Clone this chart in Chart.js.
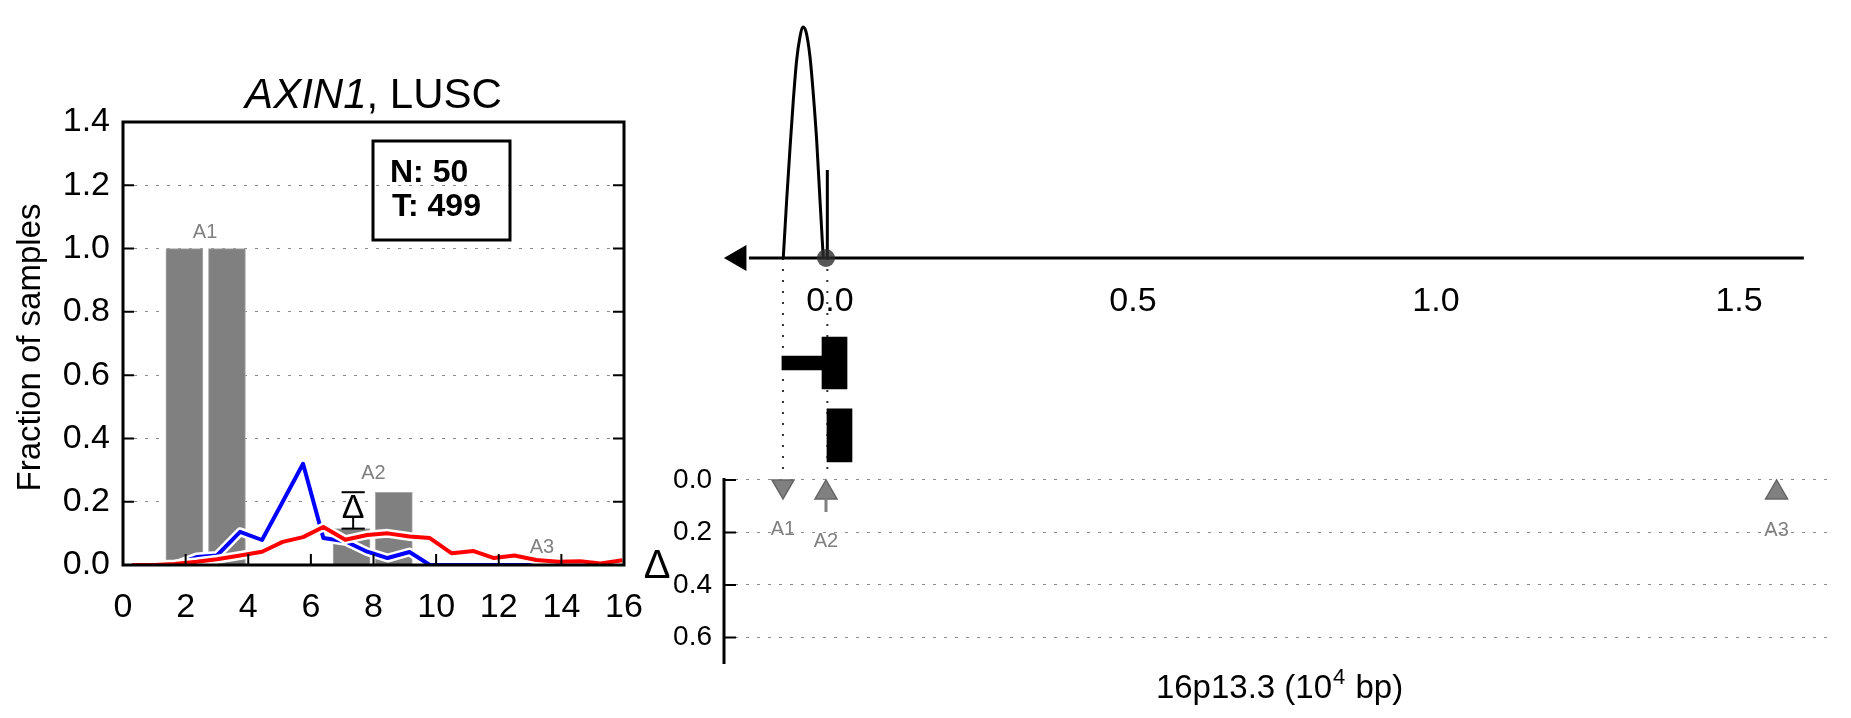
<!DOCTYPE html>
<html>
<head>
<meta charset="utf-8">
<title>AXIN1, LUSC</title>
<script src="https://cdn.jsdelivr.net/npm/chart.js@4.4.1/dist/chart.umd.min.js"></script>
<style>
  body { margin: 0; background: #fff; }
  #wrap { position: relative; width: 1851px; height: 718px; overflow: hidden; }
  canvas { position: absolute; top: 0; }
  #histChart { left: 0; }
  #locusChart { left: 640px; }
</style>
</head>
<body>
<div id="wrap">
  <canvas id="histChart" width="720" height="640"></canvas>
  <canvas id="locusChart" width="1211" height="718"></canvas>
</div>
<script>
// --- left panel: fraction of samples ---
var histXTicks = [0, 2, 4, 6, 8, 10, 12, 14, 16];
var histYTicks = [0, 0.2, 0.4, 0.6, 0.8, 1.0, 1.2, 1.4];

var barX = [1.96, 3.32, 7.30, 8.65];
var barY = [1.0, 1.0, 0.115, 0.23];

var lineX = [0.3, 1.0, 1.65, 2.35, 3.0, 3.74, 4.44, 5.1, 5.75, 6.4, 7.1, 7.8,
             8.45, 9.15, 9.8, 10.5, 11.2, 11.85, 12.5, 13.2, 13.9, 14.6, 15.25, 15.95];
var blueY = [0, 0, 0, 0.025, 0.03, 0.105, 0.079, 0.2, 0.32, 0.085, 0.075, 0.042,
             0.022, 0.041, 0, 0, 0, 0, 0, 0, 0, 0, 0, 0];
var redY  = [0, 0, 0.003, 0.01, 0.018, 0.03, 0.042, 0.073, 0.088, 0.12, 0.08, 0.095,
             0.1, 0.09, 0.085, 0.037, 0.044, 0.022, 0.03, 0.016, 0.01, 0.012, 0.005, 0.015];

// delta marker between the two bars
var deltaX = 7.35;
var deltaLow = 0.115;
var deltaHigh = 0.23;

var histLabels = ['A1', 'A2', 'A3'];
var histLabelX = [2.62, 8.0, 13.38];
var histLabelY = [1.05, 0.29, 0.054];

// --- right panel: locus 16p13.3 ---
var locusXTicks = [0, 0.5, 1.0, 1.5];
var deltaTicks = [0, 0.2, 0.4, 0.6];

var curveX = [-0.0771, -0.0715, -0.0661, -0.0606, -0.0550, -0.0495, -0.0451,
              -0.0396, -0.0330, -0.0276, -0.0220, -0.0165, -0.0111];
var curveY = [0, 0.25, 0.47, 0.68, 0.857, 0.958, 1.0, 0.98, 0.871, 0.712, 0.51, 0.25, 0];

var axisFrom = -0.1338;
var axisTo = 1.607;
var arrowX = -0.1503;

var stickX = -0.0044;
var stickTop = 0.381;

var geneStart = [-0.0793, -0.0132, -0.005];
var geneEnd   = [-0.0132, 0.0281, 0.0363];
var geneRow   = [-0.4545, -0.4545, -0.768];

var sites = ['A1', 'A2', 'A3'];
var siteX = [-0.0776, -0.0066, 1.562];
var siteDelta = [0.024, 0.048, 0.048];
var siteLabelDelta = [0.187, 0.236, 0.194];
var a2Stem = [0.07, 0.122];

var FONT = "'Liberation Sans', Arial, Helvetica, sans-serif";
Chart.defaults.font.family = FONT;
Chart.defaults.color = '#000';

function pts(xs, ys) {
    return xs.map(function(x, i) { return { x: x, y: ys[i] }; });
}
function setTicks(list) {
    return function(scale) { scale.ticks = list.map(function(v) { return { value: v }; }); };
}

// frame, inward ticks and texts of the left panel
var histDecor = {
    id: 'histDecor',
    afterDraw: function(chart) {
        var ctx = chart.ctx;
        var a = chart.chartArea;
        var xs = chart.scales.x, ys = chart.scales.y;
        ctx.save();
        ctx.strokeStyle = '#000';
        ctx.lineWidth = 2;
        ctx.beginPath();
        histYTicks.forEach(function(v) {
            if (v <= 0 || v >= 1.4) return;
            var py = ys.getPixelForValue(v);
            ctx.moveTo(a.left, py); ctx.lineTo(a.left + 11, py);
            ctx.moveTo(a.right - 11, py); ctx.lineTo(a.right, py);
        });
        histXTicks.forEach(function(v) {
            if (v <= 0 || v >= 16) return;
            var px = xs.getPixelForValue(v);
            ctx.moveTo(px, a.bottom); ctx.lineTo(px, a.bottom - 11);
        });
        ctx.stroke();
        ctx.lineWidth = 3;
        ctx.strokeRect(a.left, a.top, a.right - a.left, a.bottom - a.top);

        // title: italic gene name + plain cohort
        var part1 = 'AXIN1', part2 = ', LUSC';
        ctx.font = 'italic 42px ' + FONT;
        var w1 = ctx.measureText(part1).width;
        ctx.font = '42px ' + FONT;
        var w2 = ctx.measureText(part2).width;
        var tx = (a.left + a.right) / 2 - (w1 + w2) / 2;
        ctx.fillStyle = '#000';
        ctx.textBaseline = 'alphabetic';
        ctx.textAlign = 'left';
        ctx.font = 'italic 42px ' + FONT;
        ctx.fillText(part1, tx, a.top - 14);
        ctx.font = '42px ' + FONT;
        ctx.fillText(part2, tx + w1, a.top - 14);

        // y axis title
        ctx.save();
        ctx.translate(31, (a.top + a.bottom) / 2 + 4);
        ctx.rotate(-Math.PI / 2);
        ctx.textAlign = 'center';
        ctx.textBaseline = 'middle';
        ctx.font = '33px ' + FONT;
        ctx.fillText('Fraction of samples', 0, 0);
        ctx.restore();

        // N / T box
        var bx = a.left + 250, by = a.top + 19;
        ctx.lineWidth = 3;
        ctx.strokeRect(bx, by, 137, 99);
        ctx.font = 'bold 32px ' + FONT;
        ctx.textAlign = 'left';
        ctx.fillText('N: 50', bx + 17, by + 41);
        ctx.fillText('T: 499', bx + 19, by + 75);

        // bar labels
        ctx.fillStyle = '#808080';
        ctx.font = '20px ' + FONT;
        ctx.textAlign = 'center';
        ctx.textBaseline = 'middle';
        histLabels.forEach(function(t, i) {
            ctx.fillText(t, xs.getPixelForValue(histLabelX[i]), ys.getPixelForValue(histLabelY[i]));
        });

        // delta symbol
        ctx.fillStyle = '#000';
        ctx.font = '34px ' + FONT;
        ctx.textBaseline = 'alphabetic';
        ctx.fillText('\u0394', xs.getPixelForValue(deltaX), ys.getPixelForValue(0.15));
        ctx.restore();
    }
};

new Chart(document.getElementById('histChart'), {
    type: 'line',
    data: {
        datasets: [
            { type: 'bar', data: pts(barX, barY), backgroundColor: '#808080', borderColor: '#a8a8a8',
              borderWidth: 1, barThickness: 37, maxBarThickness: 37, grouped: false, order: 6 },
            { data: pts(lineX, blueY), borderColor: '#ffffff', borderWidth: 9, order: 5 },
            { data: pts(lineX, blueY), borderColor: '#0000ff', borderWidth: 4, order: 4 },
            { data: pts(lineX, redY), borderColor: '#ffffff', borderWidth: 9, order: 3 },
            { data: pts(lineX, redY), borderColor: '#ff0000', borderWidth: 4, order: 2 },
            { data: [{ x: deltaX, y: deltaLow }, { x: deltaX, y: 0.15 }], borderColor: '#000', borderWidth: 2, order: 1 },
            { data: [{ x: deltaX - 0.37, y: deltaLow }, { x: deltaX + 0.37, y: deltaLow }], borderColor: '#000', borderWidth: 2, order: 1 },
            { data: [{ x: deltaX - 0.37, y: deltaHigh }, { x: deltaX + 0.37, y: deltaHigh }], borderColor: '#000', borderWidth: 2, order: 1 }
        ]
    },
    options: {
        responsive: false,
        animation: false,
        layout: { padding: { top: 122, right: 96, left: 0, bottom: 0 } },
        plugins: { legend: { display: false }, tooltip: { enabled: false } },
        elements: {
            point: { radius: 0, hoverRadius: 0 },
            line: { tension: 0, borderJoinStyle: 'round', borderCapStyle: 'butt' }
        },
        scales: {
            x: {
                type: 'linear', min: 0, max: 16, offset: false,
                grid: { display: false, offset: false },
                border: { display: false },
                afterBuildTicks: setTicks(histXTicks),
                afterFit: function(s) { s.height = 75; },
                ticks: { padding: 14, font: { size: 34 }, maxRotation: 0, autoSkip: false,
                         callback: function(v) { return String(v); } }
            },
            y: {
                type: 'linear', min: 0, max: 1.4,
                grid: {
                    drawTicks: false, lineWidth: 1,
                    color: function(c) {
                        var v = c.tick ? c.tick.value : 0;
                        return (v > 0.01 && v < 1.39) ? '#8c8c8c' : 'rgba(0,0,0,0)';
                    }
                },
                border: { display: false, dash: [3, 8] },
                afterBuildTicks: setTicks(histYTicks),
                afterFit: function(s) { s.width = 123; },
                ticks: { padding: 13, font: { size: 34 }, callback: function(v) { return v.toFixed(1); } }
            }
        }
    },
    plugins: [histDecor]
});

// delta axis line, inward ticks and texts of the right panel
var locusDecor = {
    id: 'locusDecor',
    afterDraw: function(chart) {
        var ctx = chart.ctx;
        var a = chart.chartArea;
        var xs = chart.scales.x, ds = chart.scales.y;
        ctx.save();
        ctx.strokeStyle = '#000';
        ctx.lineWidth = 3;
        ctx.beginPath();
        ctx.moveTo(a.left, ds.getPixelForValue(0) - 2);
        ctx.lineTo(a.left, a.bottom);
        ctx.stroke();
        ctx.lineWidth = 2;
        ctx.beginPath();
        deltaTicks.forEach(function(v) {
            var py = ds.getPixelForValue(v);
            ctx.moveTo(a.left, py); ctx.lineTo(a.left + 12, py);
        });
        ctx.stroke();

        ctx.fillStyle = '#000';
        ctx.font = '40px ' + FONT;
        ctx.textAlign = 'center';
        ctx.textBaseline = 'middle';
        ctx.fillText('\u0394', a.left - 67, ds.getPixelForValue(0.33));

        // x axis title with superscript
        var s1 = '16p13.3 (10', s2 = '4', s3 = ' bp)';
        ctx.font = '33px ' + FONT;
        var w1 = ctx.measureText(s1).width, w3 = ctx.measureText(s3).width;
        ctx.font = '22px ' + FONT;
        var w2 = ctx.measureText(s2).width;
        var x0 = (a.left + a.right) / 2 - (w1 + w2 + w3) / 2;
        var base = a.bottom + 34;
        ctx.textAlign = 'left';
        ctx.textBaseline = 'alphabetic';
        ctx.font = '33px ' + FONT;
        ctx.fillText(s1, x0, base);
        ctx.font = '22px ' + FONT;
        ctx.fillText(s2, x0 + w1 + 1, base - 14);
        ctx.font = '33px ' + FONT;
        ctx.fillText(s3, x0 + w1 + w2 + 2, base);

        ctx.fillStyle = '#808080';
        ctx.font = '20px ' + FONT;
        ctx.textAlign = 'center';
        ctx.textBaseline = 'middle';
        sites.forEach(function(t, i) {
            ctx.fillText(t, xs.getPixelForValue(siteX[i]), ds.getPixelForValue(siteLabelDelta[i]));
        });
        ctx.restore();
    }
};

function siteUp(i) { return i !== 0; }
var triangleSets = sites.map(function(name, i) {
    return {
        label: name, showLine: false, data: [{ x: siteX[i], y: siteDelta[i] }],
        pointStyle: 'triangle', pointRotation: siteUp(i) ? 0 : 180, pointRadius: 12.7,
        pointBackgroundColor: '#808080', pointBorderColor: '#666666', pointBorderWidth: 1.5,
        order: 1
    };
});

new Chart(document.getElementById('locusChart'), {
    type: 'line',
    data: {
        datasets: [
            // dotted guides from the axis down to the delta row
            { data: [{ x: siteX[0], y: 0 }, { x: siteX[0], y: -0.952 }], yAxisID: 'yc',
              borderColor: '#333', borderWidth: 2, borderDash: [2, 9], order: 10 },
            { data: [{ x: stickX, y: 0 }, { x: stickX, y: -0.952 }], yAxisID: 'yc',
              borderColor: '#333', borderWidth: 2, borderDash: [2, 9], order: 10 },
            // gene blocks
            { type: 'bar', indexAxis: 'y', yAxisID: 'yc', xAxisID: 'x', grouped: false,
              data: [{ x: [geneStart[0], geneEnd[0]], y: geneRow[0] }], backgroundColor: '#000',
              barThickness: 14, maxBarThickness: 14, order: 6 },
            { type: 'bar', indexAxis: 'y', yAxisID: 'yc', xAxisID: 'x', grouped: false,
              data: [{ x: [geneStart[1], geneEnd[1]], y: geneRow[1] }], backgroundColor: '#000',
              barThickness: 52, maxBarThickness: 52, order: 6 },
            { type: 'bar', indexAxis: 'y', yAxisID: 'yc', xAxisID: 'x', grouped: false,
              data: [{ x: [geneStart[2], geneEnd[2]], y: geneRow[2] }], backgroundColor: '#000',
              barThickness: 53, maxBarThickness: 53, order: 6 },
            // density curve, axis, stick
            { data: pts(curveX, curveY), yAxisID: 'yc', borderColor: '#000', borderWidth: 3,
              cubicInterpolationMode: 'monotone', order: 4, clip: false },
            { data: [{ x: axisFrom, y: 0 }, { x: axisTo, y: 0 }], yAxisID: 'yc',
              borderColor: '#000', borderWidth: 3, order: 4, clip: false },
            { data: [{ x: stickX, y: 0 }, { x: stickX, y: stickTop }], yAxisID: 'yc',
              borderColor: '#000', borderWidth: 3, order: 3 },
            { showLine: false, data: [{ x: arrowX, y: 0 }], yAxisID: 'yc', pointStyle: 'triangle',
              pointRotation: 270, pointRadius: 15, pointBackgroundColor: '#000', pointBorderWidth: 0,
              order: 2, clip: false },
            { showLine: false, data: [{ x: siteX[1], y: 0 }], yAxisID: 'yc', pointStyle: 'circle',
              pointRadius: 9, pointBackgroundColor: 'rgba(45,45,45,0.8)', pointBorderWidth: 0, order: 2 },
            // A2 stem below its marker
            { data: [{ x: siteX[1], y: a2Stem[0] }, { x: siteX[1], y: a2Stem[1] }],
              borderColor: '#808080', borderWidth: 3, order: 1 }
        ].concat(triangleSets)
    },
    options: {
        responsive: false,
        animation: false,
        layout: { padding: { top: 60, right: 18, left: 0, bottom: 54 } },
        plugins: { legend: { display: false }, tooltip: { enabled: false } },
        elements: {
            point: { radius: 0, hoverRadius: 0 },
            line: { tension: 0, borderCapStyle: 'butt' }
        },
        scales: {
            x: {
                type: 'linear', min: -0.1749, max: 1.6551, offset: false,
                position: { yc: 0 },
                grid: { display: false, offset: false },
                border: { display: false },
                afterBuildTicks: setTicks(locusXTicks),
                afterFit: function(s) { s.height = 0; },
                ticks: { padding: 15, font: { size: 34 }, maxRotation: 0, autoSkip: false,
                         callback: function(v) { return v.toFixed(1); } }
            },
            y: {
                type: 'linear', reverse: true, min: -1.6000, max: 0.701, position: 'left',
                grid: { drawTicks: false, lineWidth: 1, color: '#8c8c8c' },
                border: { display: false, dash: [3, 8] },
                afterBuildTicks: setTicks(deltaTicks),
                afterFit: function(s) { s.width = 84; },
                ticks: { padding: 12, font: { size: 28 }, callback: function(v) { return v.toFixed(1); } }
            },
            yc: {
                type: 'linear', axis: 'y', display: false, min: -1.7576, max: 0.8571,
                offset: false, grid: { offset: false }
            }
        }
    },
    plugins: [locusDecor]
});
</script>
</body>
</html>
